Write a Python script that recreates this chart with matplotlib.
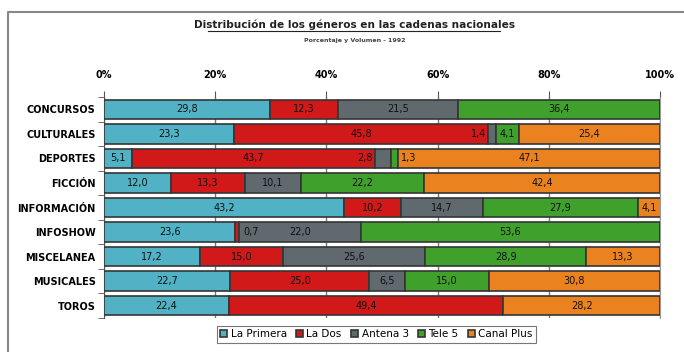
import numpy as np
from matplotlib import pyplot as plt
from matplotlib.lines import Line2D

categories = ['CONCURSOS', 'CULTURALES', 'DEPORTES', 'FICCIÓN', 'INFORMACIÓN',
              'INFOSHOW', 'MISCELANEA', 'MUSICALES', 'TOROS']
series = ['La Primera', 'La Dos', 'Antena 3', 'Tele 5', 'Canal Plus']
la_primera = [29.8, 23.3, 5.1, 12.0, 43.2, 23.6, 17.2, 22.7, 22.4]
la_dos = [12.3, 45.8, 43.7, 13.3, 10.2, 0.7, 15.0, 25.0, 49.4]
antena_3 = [21.5, 1.4, 2.8, 10.1, 14.7, 22.0, 25.6, 6.5, 0.0]
tele_5 = [36.4, 4.1, 1.3, 22.2, 27.9, 53.6, 28.9, 15.0, 0.0]
canal_plus = [0.0, 25.4, 47.1, 42.4, 4.1, 0.0, 13.3, 30.8, 28.2]
xticks = [0, 20, 40, 60, 80, 100]

colors = ['#50b2c4', '#d2191a', '#5f696e', '#3fa02b', '#eb8220']
values = [la_primera, la_dos, antena_3, tele_5, canal_plus]

# nudges (points) for labels of very thin segments, like the original
nudge = {(2, 2): -13, (2, 3): 10, (1, 2): -10, (5, 1): 10}

plt.rcParams['font.family'] = ['Liberation Sans Narrow', 'DejaVu Sans']

fig = plt.figure(figsize=(6.84, 3.52), dpi=100)
ax = fig.add_axes([0.152, 0.097, 0.813, 0.627])

y = np.arange(len(categories))
left = np.zeros(len(categories))
for i, (name, vals) in enumerate(zip(series, values)):
    vals = np.array(vals)
    ax.barh(y, vals, left=left, height=0.8, color=colors[i], edgecolor='#353535',
            linewidth=1.2, label=name, zorder=3)
    for j, v in enumerate(vals):
        if v <= 0:
            continue
        ax.annotate(f'{v:.1f}'.replace('.', ','), (left[j] + v / 2, y[j]),
                    xytext=(nudge.get((j, i), 0), 0), textcoords='offset points',
                    ha='center', va='center', fontsize=7, color='#111111', zorder=4)
    left += vals

ax.set_xlim(0, 100)
ax.set_ylim(len(categories) - 0.5, -0.5)
ax.xaxis.tick_top()
ax.set_xticks(xticks)
ax.set_xticklabels([f'{t}%' for t in xticks], fontsize=7, fontweight='bold')
ax.tick_params(axis='x', length=4, color='#555555', pad=8)
ax.set_yticks(y)
ax.set_yticklabels(categories, fontsize=7, fontweight='bold')
ax.tick_params(axis='y', length=0, pad=6)
ax.set_yticks(np.arange(-0.5, len(categories), 1), minor=True)
ax.tick_params(axis='y', which='minor', length=4, color='#555555')
ax.grid(axis='x', color='#777777', linewidth=1, zorder=0)
for s in ['top', 'bottom']:
    ax.spines[s].set_visible(False)
ax.spines['left'].set_color('#555555')
ax.spines['right'].set_color('#999999')

fig.text(0.518, 0.93, 'Distribución de los géneros en las cadenas nacionales',
         ha='center', va='center', fontsize=7.6, fontweight='bold', color='#222222')
fig.add_artist(Line2D([0.304, 0.731], [0.912, 0.912], color='#222222', linewidth=0.8))
fig.text(0.518, 0.885, 'Porcentaje y Volumen - 1992', ha='center', va='center',
         fontsize=4.5, fontweight='bold', color='#444444')

# outer frame
fig.add_artist(Line2D([0.012, 0.012, 1.0], [0.0, 0.966, 0.966], color='#888888', linewidth=1.5))

leg = ax.legend(loc='upper center', bbox_to_anchor=(0.49, -0.015), ncol=5, fontsize=7.5,
                frameon=True, fancybox=False, edgecolor='#555555', handlelength=0.7,
                handleheight=0.7, handletextpad=0.3, columnspacing=0.9, borderpad=0.3)
leg.get_frame().set_linewidth(0.8)

fig.savefig('out.png', dpi=100)
